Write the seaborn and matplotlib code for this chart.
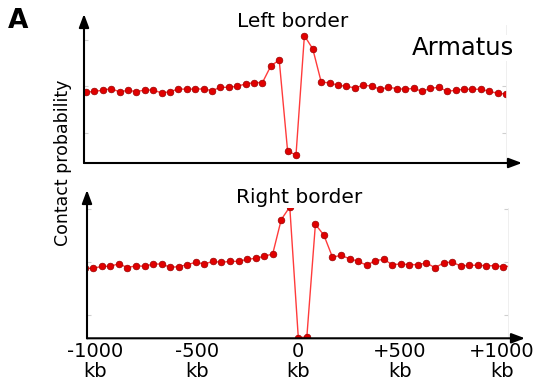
import numpy as np
import pandas as pd
import matplotlib
matplotlib.use("Agg")
import matplotlib.pyplot as plt
import seaborn as sns

# Bin offsets around the border (bin size in kb)
bin_offsets = list(range(-25, 26))
bin_kb = 42

# Normalised contact probability around TAD borders
left_border = [0.937, 0.948, 0.959, 0.977, 0.941, 0.959, 0.944, 0.962, 0.962, 0.930,
               0.944, 0.973, 0.970, 0.973, 0.973, 0.955, 0.991, 0.991, 1.002, 1.027,
               1.041, 1.041, 1.220, 1.285, 0.306, 0.263, 1.547, 1.403, 1.048, 1.038,
               1.013, 1.002, 0.984, 1.013, 1.005, 0.970, 0.991, 0.977, 0.970, 0.980,
               0.948, 0.980, 0.991, 0.948, 0.959, 0.970, 0.970, 0.970, 0.948, 0.927,
               0.919]
right_border = [0.940, 0.939, 0.958, 0.958, 0.983, 0.945, 0.964, 0.958, 0.980, 0.980,
                0.949, 0.955, 0.974, 0.996, 0.980, 1.005, 0.996, 1.005, 1.005, 1.024,
                1.034, 1.053, 1.075, 1.400, 1.520, 0.280, 0.292, 1.356, 1.252, 1.044,
                1.062, 1.030, 1.006, 0.968, 1.012, 1.024, 0.974, 0.980, 0.974, 0.974,
                0.990, 0.945, 0.990, 0.999, 0.961, 0.968, 0.968, 0.964, 0.964, 0.955,
                0.960]

tick_kb = [-1000, -500, 0, 500, 1000]
tick_labels = ["-1000\nkb", "-500\nkb", "0\nkb", "+500\nkb", "+1000\nkb"]
ytick_vals = [0.5, 1.0, 1.5]

sns.set_style("white")
plt.rcParams["font.family"] = ["DejaVu Sans"]
plt.rcParams["text.color"] = "black"
plt.rcParams["xtick.labelcolor"] = "black"

W, H = 539, 380
fig = plt.figure(figsize=(W / 100, H / 100), dpi=100)

pos_kb = np.array(bin_offsets) * bin_kb
df = pd.DataFrame({"kb": pos_kb, "left": left_border, "right": right_border})

ax_top = fig.add_axes([84 / W, 217 / H, (506 - 84) / W, (163 - 25) / H])
ax_bot = fig.add_axes([87 / W, 41.7 / H, (508 - 87) / W, (338.3 - 208) / H])

line_kw = dict(color="#ff3b3b", linewidth=1.0, marker="o", markersize=4.8,
               markerfacecolor="#e00000", markeredgecolor="#9a0000",
               markeredgewidth=0.5)

sns.lineplot(data=df, x="kb", y="left", ax=ax_top, **line_kw)
sns.lineplot(data=df, x="kb", y="right", ax=ax_bot, **line_kw)

ax_top.set_xlim(-1060, 1050)
ax_top.set_ylim(0.177, 1.661)
ax_bot.set_xlim(-1039, 1031)
ax_bot.set_ylim(0.277, 1.510)

for ax in (ax_top, ax_bot):
    ax.set_xlabel("")
    ax.set_ylabel("")
    ax.patch.set_alpha(0)
    for side in ("left", "top", "bottom"):
        ax.spines[side].set_visible(False)
    ax.spines["right"].set_color("#ececec")
    ax.spines["right"].set_linewidth(0.6)
    ax.set_yticks(ytick_vals)
    ax.tick_params(axis="y", left=True, right=True, direction="in", length=3,
                   width=0.8, color="#cfcfcf", labelleft=False)

ax_top.set_xticks([])
ax_bot.set_xticks(tick_kb)
ax_bot.set_xticklabels(tick_labels, fontsize=14, linespacing=1.05, color="black")
ax_bot.tick_params(axis="x", length=0, pad=3)

# Axis lines with arrow heads (figure pixel coordinates)
arrow_kw = dict(arrowstyle="-|>,head_length=0.8,head_width=0.3", lw=1.5,
                color="black", shrinkA=0, shrinkB=0, mutation_scale=10)
for origin, tip in [((84, 217), (84, 366)), ((84, 217), (522, 217)),
                    ((87, 41.7), (87, 190)), ((87, 41.7), (525, 41.7))]:
    fig.add_artist(matplotlib.patches.FancyArrowPatch(
        posA=(origin[0] / W, origin[1] / H), posB=(tip[0] / W, tip[1] / H),
        transform=fig.transFigure, **arrow_kw))

fig.text(293 / W, (H - 26.7) / H, "Left border", fontsize=14.5,
         ha="center", va="baseline")
fig.text(299 / W, (H - 203.3) / H, "Right border", fontsize=14.5,
         ha="center", va="baseline")
fig.text(463 / W, (H - 55) / H, "Armatus", fontsize=17.5, ha="center",
         va="baseline", bbox=dict(facecolor="white", edgecolor="none", pad=1))
fig.text(63 / W, 217 / H, "Contact probability", fontsize=12.5, rotation=90,
         ha="center", va="center")
fig.text(8 / W, (H - 28.3) / H, "A", fontsize=19, fontweight="bold",
         ha="left", va="baseline")

fig.savefig("out.png", dpi=100)
